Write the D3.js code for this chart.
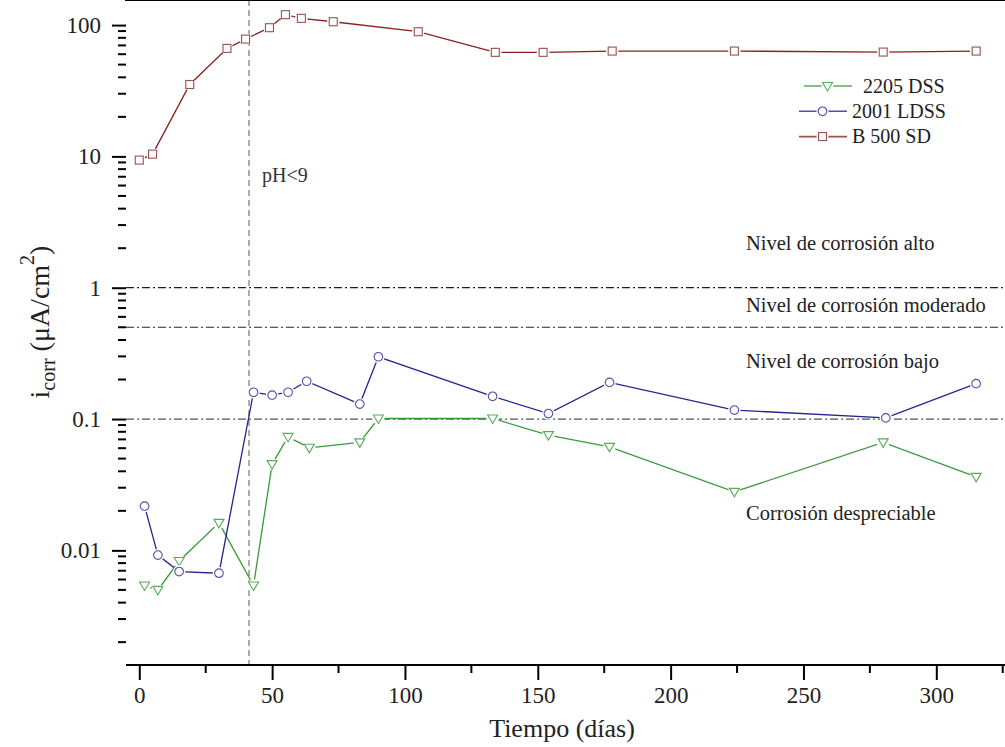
<!DOCTYPE html>
<html lang="es">
<head>
<meta charset="utf-8">
<title>icorr vs tiempo</title>
<script src="https://cdn.jsdelivr.net/npm/d3@7"></script>
<style>
  body { margin: 0; background: #fff; }
</style>
</head>
<body>
<div id="chart"></div>
<script>

// ---- data ----
var dssDays  = [2, 7, 15, 30, 43, 50, 56, 64, 83, 90, 133, 154, 177, 224, 280, 315];
var dssVals  = [0.0054, 0.0050, 0.0083, 0.0162, 0.0054, 0.0454, 0.0731, 0.0604, 0.0664, 0.101, 0.101, 0.0754, 0.0614, 0.0279, 0.0664, 0.0363];

var ldssDays = [2, 7, 15, 30, 43, 50, 56, 63, 83, 90, 133, 154, 177, 224, 281, 315];
var ldssVals = [0.0217, 0.0092, 0.0069, 0.0067, 0.160, 0.152, 0.160, 0.194, 0.130, 0.298, 0.149, 0.110, 0.190, 0.117, 0.102, 0.186];

var sdDays   = [0, 5, 19, 33, 40, 49, 55, 61, 73, 105, 134, 152, 178, 224, 280, 315];
var sdVals   = [9.37, 10.4, 35.3, 66.4, 78.2, 95.5, 120, 112.5, 106, 89, 62, 62, 63.4, 63.4, 62.3, 63.4];

var seriesNames = ["2205 DSS", "2001 LDSS", "B 500 SD"];

var xTicks = [0, 50, 100, 150, 200, 250, 300];
var xMinorTicks = [25, 75, 125, 175, 225, 275, 325];
var yTicks = [0.01, 0.1, 1, 10, 100];
var yTickLabels = ["0.01", "0.1", "1", "10", "100"];

var levelLines = [1, 0.5, 0.1];
var phDay = 41.3;

var levelLabels = ["Nivel de corrosión alto", "Nivel de corrosión moderado", "Nivel de corrosión bajo", "Corrosión despreciable"];
var levelLabelVals = [1.93, 0.655, 0.244, 0.017];

var serif = "'Liberation Serif', 'Times New Roman', serif";

// ---- canvas ----
var w = 1005;
var h = 747;

var svg = d3.select("#chart")
  .append("svg")
  .attr("width", w)
  .attr("height", h)
  .attr("font-family", serif)
  .style("font-family", serif);

var x = d3.scaleLinear().domain([-5, 330]).range([126, 1016]);
var y = d3.scaleLog().domain([0.00134, 128]).range([665, 11]);

var left = x.range()[0], bottom = y.range()[0], top = y.range()[1];

// minor y ticks, 2..9 in every decade inside the domain
var yMinor = [];
[0.001, 0.01, 0.1, 1, 10, 100].forEach(function(dec) {
  for (var k = 2; k <= 9; k++) {
    var v = dec * k;
    if (v > y.domain()[0] && v < y.domain()[1]) yMinor.push(v);
  }
});

// ---- reference lines ----
svg.selectAll("line.level")
  .data(levelLines)
  .enter()
  .append("line")
  .attr("class", "level")
  .attr("x1", left)
  .attr("x2", w)
  .attr("y1", function(d) { return y(d); })
  .attr("y2", function(d) { return y(d); })
  .attr("stroke", function(d) { return d === 0.1 ? "#555" : "#222"; })
  .attr("stroke-width", 1.2)
  .attr("stroke-dasharray", "8,3,2,3");

svg.append("line")
  .attr("x1", x(phDay))
  .attr("x2", x(phDay))
  .attr("y1", top)
  .attr("y2", bottom)
  .attr("stroke", "#8a8a8a")
  .attr("stroke-width", 1.4)
  .attr("stroke-dasharray", "6,4");

svg.append("text")
  .attr("x", x(phDay) + 13)
  .attr("y", 182)
  .attr("font-size", 20)
  .attr("fill", "#333")
  .style("font-family", serif)
  .text("pH<9");

svg.selectAll("text.levelLabel")
  .data(levelLabels)
  .enter()
  .append("text")
  .attr("class", "levelLabel")
  .attr("x", 746)
  .attr("y", function(d, i) { return y(levelLabelVals[i]); })
  .attr("font-size", 20.5)
  .attr("fill", "#222")
  .style("font-family", serif)
  .text(function(d) { return d; });

// ---- series ----
var series = [
  { name: seriesNames[0], days: dssDays,  vals: dssVals,  line: "#3b9a3b", mark: "#5aab5a", shape: "tri" },
  { name: seriesNames[1], days: ldssDays, vals: ldssVals, line: "#25258f", mark: "#5050aa", shape: "circle" },
  { name: seriesNames[2], days: sdDays,   vals: sdVals,   line: "#8a2020", mark: "#9c5050", shape: "square" }
];

var line = d3.line()
  .x(function(d) { return x(d[0]); })
  .y(function(d) { return y(d[1]); });

function drawMarker(g, shape, color) {
  if (shape === "circle") {
    g.append("circle").attr("r", 4.3)
      .attr("fill", "#fff").attr("stroke", color).attr("stroke-width", 1.1);
  } else if (shape === "square") {
    g.append("rect").attr("x", -4).attr("y", -4).attr("width", 8).attr("height", 8)
      .attr("fill", "#fff").attr("stroke", color).attr("stroke-width", 1.1);
  } else {
    g.append("path").attr("d", "M-5,-3.5L5,-3.5L0,5Z")
      .attr("fill", "#fff").attr("stroke", color).attr("stroke-width", 1.1);
  }
}

series.forEach(function(s) {
  var pts = s.days.map(function(d, i) { return [d, s.vals[i]]; });

  svg.append("path")
    .datum(pts)
    .attr("d", line)
    .attr("fill", "none")
    .attr("stroke", s.line)
    .attr("stroke-width", 1.3);

  // white halo so the line stops short of each marker
  svg.selectAll(null)
    .data(pts)
    .enter()
    .append("circle")
    .attr("cx", function(d) { return x(d[0]); })
    .attr("cy", function(d) { return y(d[1]); })
    .attr("r", 6.2)
    .attr("fill", "#fff");

  svg.selectAll(null)
    .data(pts)
    .enter()
    .append("g")
    .attr("transform", function(d) { return "translate(" + x(d[0]) + "," + y(d[1]) + ")"; })
    .each(function() { drawMarker(d3.select(this), s.shape, s.mark); });
});

// ---- legend ----
var legendShift = [5, 0, 0];
var legend = svg.selectAll("g.legend")
  .data(series)
  .enter()
  .append("g")
  .attr("class", "legend")
  .attr("transform", function(d, i) { return "translate(" + (799 + legendShift[i]) + "," + (86 + i * 25.3) + ")"; });

legend.append("line")
  .attr("x1", 0).attr("x2", 48)
  .attr("stroke", function(d) { return d.mark; })
  .attr("stroke-width", 1.6);

legend.append("circle")
  .attr("cx", 23.5).attr("r", 6)
  .attr("fill", "#fff");

legend.append("g")
  .attr("transform", "translate(23.5,0)")
  .each(function(d) { drawMarker(d3.select(this), d.shape, d.mark); });

legend.append("text")
  .attr("x", function(d, i) { return i === 0 ? 59 : 53; })
  .attr("y", 6.5)
  .attr("font-size", 20)
  .attr("fill", "#222")
  .style("font-family", serif)
  .text(function(d) { return d.name; });

// ---- axes ----
var xAxis = d3.axisBottom(x).tickValues(xTicks).tickSize(15).tickSizeOuter(0).tickPadding(7);
var gx = svg.append("g").attr("transform", "translate(0," + bottom + ")").call(xAxis);
gx.attr("font-family", serif);
gx.select(".domain").attr("stroke", "#000").attr("stroke-width", 2).attr("d", "M" + left + ",0H" + (w + 20));
gx.selectAll(".tick line").attr("stroke", "#000").attr("stroke-width", 2);
gx.selectAll(".tick text").attr("font-size", 23).attr("fill", "#222").style("font-family", serif);

svg.append("g").selectAll("line")
  .data(xMinorTicks)
  .enter()
  .append("line")
  .attr("x1", function(d) { return x(d); })
  .attr("x2", function(d) { return x(d); })
  .attr("y1", bottom)
  .attr("y2", bottom + 8)
  .attr("stroke", "#000")
  .attr("stroke-width", 2);

var yAxis = d3.axisLeft(y).tickValues(yTicks).tickSize(14).tickSizeOuter(0).tickPadding(11)
  .tickFormat(function(d, i) { return yTickLabels[i]; });
var gy = svg.append("g").attr("transform", "translate(" + left + ",0)").call(yAxis);
gy.attr("font-family", serif);
gy.select(".domain").attr("stroke", "#000").attr("stroke-width", 2).attr("d", "M0," + (bottom + 1) + "V" + top);
gy.selectAll(".tick line").attr("stroke", "#000").attr("stroke-width", 2);
gy.selectAll(".tick text").attr("font-size", 23).attr("fill", "#222").style("font-family", serif);

svg.append("g").selectAll("line")
  .data(yMinor)
  .enter()
  .append("line")
  .attr("x1", left - 8)
  .attr("x2", left)
  .attr("y1", function(d) { return y(d); })
  .attr("y2", function(d) { return y(d); })
  .attr("stroke", "#000")
  .attr("stroke-width", 2);

// top frame
svg.append("line")
  .attr("x1", left - 1).attr("x2", w)
  .attr("y1", top).attr("y2", top)
  .attr("stroke", "#000").attr("stroke-width", 2);

// ---- axis titles ----
svg.append("text")
  .attr("x", 562)
  .attr("y", 737)
  .attr("text-anchor", "middle")
  .attr("font-size", 26)
  .attr("fill", "#222")
  .style("font-family", serif)
  .text("Tiempo (días)");

var yt = svg.append("text")
  .attr("transform", "translate(49,322) rotate(-90)")
  .attr("text-anchor", "middle")
  .attr("font-size", 28)
  .attr("fill", "#222")
  .style("font-family", serif);
yt.append("tspan").text("i");
yt.append("tspan").attr("font-size", 20).attr("dy", 6).text("corr");
yt.append("tspan").attr("dy", -6).text(" (μA/cm");
yt.append("tspan").attr("font-size", 20).attr("dy", -15).text("2");
yt.append("tspan").attr("dy", 15).text(")");

</script>
</body>
</html>
